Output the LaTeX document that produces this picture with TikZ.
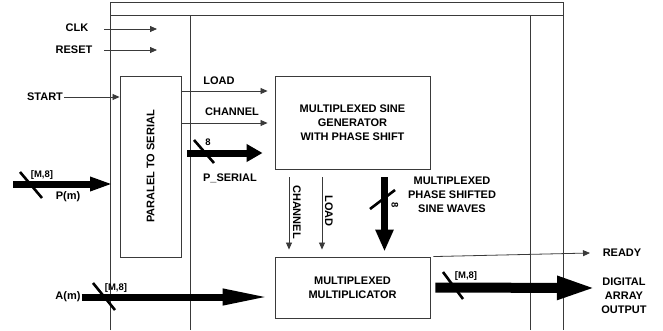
\documentclass[tikz,border=0pt]{standalone}
\usepackage{fontspec}
\setmainfont{Liberation Sans}
\usepackage{tikz}
\usetikzlibrary{arrows.meta, positioning, calc}
\definecolor{FrameGray}{HTML}{3A3A3A}
\definecolor{BusBlack}{HTML}{000000}
\newcommand{\sigfont}{\fontsize{11}{14}\selectfont\bfseries}
\newcommand{\busfont}{\fontsize{9.5}{11}\selectfont\bfseries}
\tikzset{
    % Boxes of the design
    block/.style={
        rectangle,
        draw=FrameGray,
        fill=white,
        line width=0.9pt,
        inner sep=0pt,
        align=center,
        font=\sigfont
    },
    sig label/.style={
        inner sep=1pt,
        align=center,
        font=\sigfont
    },
    bus label/.style={
        inner sep=0pt,
        font=\busfont
    },
    frame line/.style={
        draw=FrameGray,
        line width=0.9pt
    },
    signal arrow/.style={
        -{Triangle[length=7pt,width=6pt]},
        line width=0.8pt,
        FrameGray
    },
    bus arrow/.style={
        -{Triangle[length=16pt,width=17pt]},
        line width=7pt,
        BusBlack
    },
    bus slash/.style={
        line width=2.6pt,
        BusBlack
    }
}

\begin{document}
\begin{tikzpicture}[x=1pt, y=-1pt]
        \useasboundingbox (0,0) rectangle (663,330);

        % Frame
        \draw[frame line] (110,330) |- (563,2) -- (563,330);
        \draw[frame line] (110,15) -- (563,15);
        \draw[frame line] (190,15) -- (190,330);
        \draw[frame line] (530,15) -- (530,330);

        % Blocks
        \node[block, minimum width=61pt, minimum height=181pt] (p2s) at (150.5,166.5) {};
        \node[sig label, rotate=90] (p2s text) at (p2s.center) {PARALEL TO SERIAL};

        \node[block, minimum width=155pt, minimum height=93pt] (gen) at (352.5,122.5) {
            MULTIPLEXED SINE\\
            GENERATOR\\
            WITH PHASE SHIFT
        };

        \node[block, minimum width=155pt, minimum height=61pt] (mult) at (352.5,287.5) {
            MULTIPLEXED\\
            MULTIPLICATOR
        };

        % Inputs on the left
        \node[sig label] (clk) at (77,28) {CLK};
        \coordinate (clk end) at (157,29);
        \draw[signal arrow] (104,29) -- (clk end);

        \node[sig label] (reset) at (74,50) {RESET};
        \coordinate (reset end) at (157,50);
        \draw[signal arrow] (104,50) -- (reset end);

        \node[sig label] (start) at (45,97) {START};
        \draw[signal arrow] (start.east) -- (start.east -| p2s.west);

        \node[sig label] (pm) at (68,197) {P(m)};
        \coordinate (pm start) at (13,184);
        \coordinate (pm end) at (113,184);
        \draw[bus arrow, -{Triangle[length=23pt,width=13pt]}] (pm start) -- (pm end);
        \draw[bus slash] (31,185) +(-11,-13) -- +(11,13);
        \node[bus label] (pm width) at (42,175) {[M,8]};

        \node[sig label] (am) at (68,297) {A(m)};
        \draw[bus arrow, -{Triangle[length=47pt,width=15pt]}, shorten >=5pt] (am.east) -- (am.east -| mult.west);
        \draw[bus slash] (104,296.5) +(-11,-13.5) -- +(11,13.5);
        \node[bus label] (am width) at (116,288) {[M,8]};

        % Paralel to serial -> generator
        \node[sig label] (load) at (219,81) {LOAD};
        \draw[signal arrow, shorten >=7pt] (p2s.east |- 0,91) -- (gen.west |- 0,91);

        \node[sig label] (channel) at (232,112) {CHANNEL};
        \draw[signal arrow, shorten >=7pt] (p2s.east |- 0,123) -- (gen.west |- 0,123);

        \draw[bus arrow, shorten <=6pt, shorten >=12pt] (p2s.east |- 0,153) -- (gen.west |- 0,153);
        \draw[bus slash] (204,151.5) +(-10,-11.5) -- +(10,11.5);
        \node[bus label] (serial width) at (208,142) {8};
        \node[sig label] (pserial) at (230,178) {P\_SERIAL};

        % Generator -> multiplicator
        \draw[signal arrow, shorten <=8pt, shorten >=7pt] (gen.south -| 289,0) -- (mult.north -| 289,0);
        \node[sig label, rotate=-90] (channel v) at (297,212) {CHANNEL};

        \draw[signal arrow, shorten <=8pt, shorten >=7pt] (gen.south -| 322,0) -- (mult.north -| 322,0);
        \node[sig label, rotate=-90] (load v) at (329,211) {LOAD};

        \draw[bus arrow, -{Triangle[length=22pt,width=17pt]}, shorten <=8pt, shorten >=5pt] (gen.south -| 384.5,0) -- (mult.north -| 384.5,0);
        \draw[bus slash] (382.5,199.5) +(-12.5,9.5) -- +(12.5,-9.5);
        \node[bus label, rotate=-90] (waves width) at (395,205) {8};
        \node[sig label] (waves) at (452,195) {MULTIPLEXED\\PHASE SHIFTED\\SINE WAVES};

        % Outputs
        \coordinate (ready end) at (590,253);
        \draw[signal arrow] ([xshift=3pt]mult.north east) -- (ready end);
        \node[sig label] (ready) at (622,253) {READY};

        \node[sig label] (dout) at (624,296) {DIGITAL\\ARRAY\\OUTPUT};
        \draw[bus arrow, line width=10pt, -{Triangle[length=40pt,width=21pt]}, shorten <=5pt] (mult.east) -- (597,288);
        \draw[bus slash] (453,285.5) +(-10,-13.5) -- +(10,13.5);
        \node[bus label] (out width) at (466,276) {[M,8]};
    \end{tikzpicture}
\end{document}
